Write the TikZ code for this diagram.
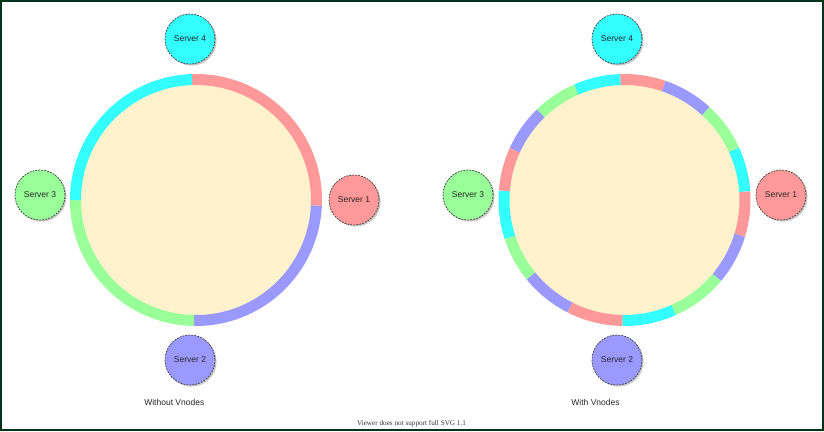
\documentclass[tikz,border=0pt]{standalone}
\usepackage{fontspec}
\setmainfont{Liberation Sans}
\newfontfamily\viewerfont{Liberation Serif}
\usetikzlibrary{shadows}
\definecolor{sred}{HTML}{FF9999}
\definecolor{sblue}{HTML}{9999FF}
\definecolor{sgreen}{HTML}{99FF99}
\definecolor{scyan}{HTML}{33FFFF}
\definecolor{ringfill}{HTML}{FFF2CC}
\definecolor{framecol}{HTML}{003319}
\definecolor{edgecol}{HTML}{444444}
\tikzset{
  server/.style={circle, minimum size=50pt, inner sep=0pt, draw=edgecol, line width=0.8pt,
    dash pattern=on 1.8pt off 1.2pt, fill=#1,
    drop shadow={shadow xshift=1.6pt, shadow yshift=-1.6pt, fill=black, opacity=0.22},
    font=\fontsize{8.5}{10}\selectfont, text=black!85},
  ringseg/.style={line width=11pt},
  caption/.style={font=\fontsize{8.5}{10}\selectfont, text=black!85},
}
\begin{document}
\begin{tikzpicture}[x=1pt,y=1pt]
\useasboundingbox (0,0) rectangle (824,-431);
\fill[white] (0,0) rectangle (824,-431);
\draw[framecol, line width=1.5pt] (0.75,-0.75) rectangle (822.75,-429.75);

% left ring
\coordinate (cl) at (196,-200);
\fill[ringfill] (cl) circle[radius=120];
\foreach \col/\sa/\ea in {sred/91.9/-2.7, sblue/-2.7/-91, sgreen/-91/-180, scyan/-180/-268.1}
  \draw[\col, ringseg] ([shift={(\sa:120.5)}]cl) arc[start angle=\sa, end angle=\ea, radius=120.5];

% right ring
\coordinate (cr) at (624.5,-200);
\fill[ringfill] (cr) circle[radius=120];
\foreach \col/\sa/\ea in {sred/92/71, sblue/71/47.5, sgreen/47.5/24.6, scyan/24.6/4,
  sred/4/-17, sblue/-17/-40, sgreen/-40/-66, scyan/-66/-91,
  sred/-91/-117, sblue/-117/-141, sgreen/-141/-162, scyan/-162/-184.4,
  sred/-184.4/-204.5, sblue/-204.5/-226, sgreen/-226/-246.5, scyan/-246.5/-268}
  \draw[\col, ringseg] ([shift={(\sa:120.5)}]cr) arc[start angle=\sa, end angle=\ea, radius=120.5];

% servers left
\node[server=scyan]  (l4) at (190,-39)  {Server 4};
\node[server=sgreen] (l3) at (40,-195)  {Server 3};
\node[server=sred]   (l1) at (354,-200) {Server 1};
\node[server=sblue]  (l2) at (190,-360) {Server 2};
% servers right
\node[server=scyan]  (r4) at (617,-39)  {Server 4};
\node[server=sgreen] (r3) at (468,-195) {Server 3};
\node[server=sred]   (r1) at (781,-195) {Server 1};
\node[server=sblue]  (r2) at (617,-360) {Server 2};

\node[caption] (capl) at (174.3,-402) {Without Vnodes};
\node[caption] (capr) at (595.5,-402) {With Vnodes};
\node[font=\viewerfont\fontsize{7.2}{8}\selectfont, text=black!80] (viewer) at (411.5,-424) {Viewer does not support full SVG 1.1};
\end{tikzpicture}
\end{document}
